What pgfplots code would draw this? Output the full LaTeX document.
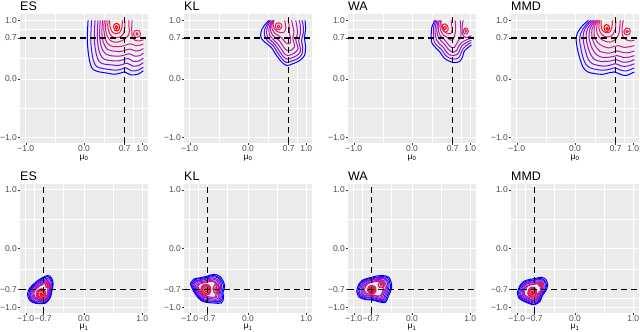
\documentclass[border=0pt]{standalone}
\usepackage{fontspec}
\setmainfont{Liberation Sans}
\usepackage{pgfplots}
\pgfplotsset{compat=1.18}
\definecolor{k0}{HTML}{0000FF}
\definecolor{k1}{HTML}{5A0CF2}
\definecolor{k2}{HTML}{7A10E0}
\definecolor{k3}{HTML}{9214CC}
\definecolor{k4}{HTML}{A418B8}
\definecolor{k5}{HTML}{B41CA4}
\definecolor{k6}{HTML}{C31E8E}
\definecolor{k7}{HTML}{D11E78}
\definecolor{k8}{HTML}{DE1C62}
\definecolor{k9}{HTML}{EC164A}
\definecolor{k10}{HTML}{FF0000}
\definecolor{bgg}{HTML}{EBEBEB}
\definecolor{tickg}{HTML}{4D4D4D}
\definecolor{tickm}{HTML}{333333}
\pgfplotsset{
  panel/.style={
    scale only axis, width=128bp, height=129bp,
    xmin=-1.1, xmax=1.1, ymin=-1.1, ymax=1.1,
    axis background/.style={fill=bgg},
    axis x line*=bottom, axis y line*=left,
    axis line style={draw=none},
    grid=both,
    major grid style={white, line width=0.9bp},
    minor grid style={white, line width=0.45bp},
    tick style={tickm, line width=0.5bp},
    major tick length=2bp, minor tick length=0pt,
    tick align=outside,
    tick label style={font=\fontsize{8.5}{9}\selectfont, text=tickg},
    xticklabel style={anchor=north, inner sep=0.3bp},
    yticklabel style={inner sep=1bp},
    title style={at={(axis description cs:0,1)}, anchor=base west, inner sep=0pt, yshift=-2.3bp, font=\fontsize{12.5}{14}\selectfont},
    xlabel style={at={(axis description cs:0.5,0)}, anchor=center, yshift=-14.5bp, font=\fontsize{8.5}{10}\selectfont, inner sep=0pt},
    every axis plot/.append style={line width=1bp, smooth, tension=0.55},
  },
  toprow/.style={panel,
    xtick={-1,0,0.7,1}, xticklabels={−1.0,0.0,0.7,1.0},
    ytick={-1,0,0.7,1}, yticklabels={−1.0,0.0,0.7,1.0},
    minor xtick={-0.5,0.35,0.85}, minor ytick={-0.5,0.35,0.85},
    xlabel={μ\textsubscript{0}}},
  botrow/.style={panel,
    xtick={-1,-0.7,0,1}, xticklabels={−1.0,−0.7,0.0,1.0},
    ytick={-1,-0.7,0,1}, yticklabels={−1.0,−0.7,0.0,1.0},
    minor xtick={-0.85,-0.35,0.5}, minor ytick={-0.85,-0.35,0.5},
    xlabel={μ\textsubscript{1}}},
  dl/.style={black, line width=1.5bp, dash pattern=on 6bp off 4bp, sharp plot},
  ic/.style={line width=1.3bp},
}
\begin{document}
\begin{tikzpicture}
\fill[white] (0,0) rectangle (640bp,332bp);
\useasboundingbox (0,0) rectangle (640bp,332bp);

% ---------------- Top row: ES ----------------
\begin{axis}[toprow, at={(20bp,188.5bp)}, anchor=south west, title={ES}]
\addplot[k0] coordinates {(0.07,1.0) (0.06,0.80) (0.06,0.60) (0.08,0.40) (0.11,0.25) (0.16,0.16) (0.27,0.12) (0.40,0.10) (0.52,0.08) (0.62,0.10) (0.70,0.12) (0.80,0.07) (0.92,0.08) (1.02,0.14)};
\addplot[k1] coordinates {(0.13,1.0) (0.12,0.80) (0.12,0.60) (0.14,0.42) (0.17,0.29) (0.22,0.21) (0.32,0.18) (0.45,0.16) (0.56,0.15) (0.65,0.17) (0.72,0.19) (0.82,0.14) (0.93,0.15) (1.02,0.20)};
\addplot[k2] coordinates {(0.19,1.0) (0.18,0.82) (0.18,0.64) (0.20,0.48) (0.23,0.36) (0.28,0.28) (0.37,0.25) (0.48,0.24) (0.58,0.23) (0.67,0.25) (0.74,0.27) (0.84,0.22) (0.94,0.23) (1.02,0.28)};
\addplot[k3] coordinates {(0.24,1.0) (0.23,0.82) (0.23,0.66) (0.25,0.52) (0.28,0.42) (0.33,0.35) (0.41,0.32) (0.51,0.31) (0.60,0.31) (0.68,0.33) (0.76,0.35) (0.85,0.30) (0.95,0.31) (1.02,0.36)};
\addplot[k4] coordinates {(0.28,1.0) (0.27,0.84) (0.27,0.70) (0.29,0.58) (0.32,0.49) (0.37,0.43) (0.45,0.40) (0.54,0.39) (0.62,0.39) (0.70,0.41) (0.78,0.43) (0.87,0.39) (0.96,0.40) (1.02,0.44)};
\addplot[k5] coordinates {(0.32,1.0) (0.31,0.86) (0.31,0.74) (0.33,0.63) (0.36,0.56) (0.41,0.50) (0.48,0.48) (0.56,0.47) (0.64,0.47) (0.71,0.49) (0.79,0.51) (0.88,0.48) (0.97,0.49) (1.02,0.52)};
\addplot[k6] coordinates {(0.35,1.0) (0.34,0.88) (0.35,0.76) (0.37,0.67) (0.40,0.61) (0.45,0.57) (0.52,0.55) (0.59,0.55) (0.66,0.56) (0.72,0.58) (0.80,0.60) (0.89,0.57) (0.98,0.58) (1.02,0.60)};
\addplot[k7] coordinates {(0.38,1.0) (0.37,0.89) (0.38,0.79) (0.41,0.71) (0.45,0.66) (0.51,0.63) (0.58,0.63) (0.65,0.65) (0.71,0.69) (0.76,0.74) (0.78,0.82) (0.77,0.92) (0.77,1.0)};
\addplot[k7] coordinates {(0.83,1.0) (0.82,0.88) (0.83,0.72) (0.88,0.66) (0.96,0.65) (1.02,0.67)};
\addplot[k8] coordinates {(0.85,0.77) (0.87,0.72) (0.91,0.71) (0.96,0.73) (0.97,0.78) (0.95,0.82) (0.91,0.83) (0.87,0.82) (0.85,0.77)};
\addplot[k9] coordinates {(0.89,0.77) (0.91,0.75) (0.93,0.77) (0.91,0.79) (0.89,0.77)};
\addplot[k8] coordinates {(0.41,1.0) (0.41,0.88) (0.44,0.78) (0.49,0.72) (0.56,0.70) (0.63,0.72) (0.68,0.78) (0.70,0.88) (0.70,1.0)};
\addplot[k9] coordinates {(0.44,1.0) (0.45,0.88) (0.49,0.80) (0.55,0.77) (0.61,0.79) (0.65,0.87) (0.66,1.0)};
\addplot[k10] coordinates {(0.51,0.89) (0.53,0.83) (0.57,0.82) (0.61,0.86) (0.60,0.93) (0.56,0.95) (0.52,0.93) (0.51,0.89)};
\addplot[k10] coordinates {(0.54,0.88) (0.56,0.85) (0.58,0.88) (0.56,0.91) (0.54,0.88)};
\addplot[dl] coordinates {(0.7,-1.1) (0.7,1.1)};
\addplot[dl] coordinates {(-1.1,0.7) (1.1,0.7)};
\end{axis}

% ---------------- Top row: KL ----------------
\begin{axis}[toprow, at={(184bp,188.5bp)}, anchor=south west, title={KL}]
\addplot[k0] coordinates {(0.36,1.0) (0.27,0.90) (0.22,0.79) (0.23,0.69) (0.31,0.61) (0.40,0.54) (0.47,0.43) (0.56,0.31) (0.66,0.23) (0.77,0.26) (0.88,0.31) (0.97,0.40) (0.99,0.55) (0.97,0.70) (0.99,0.85) (0.98,1.0)};
\addplot[k1] coordinates {(0.38,1.0) (0.31,0.90) (0.28,0.80) (0.30,0.70) (0.36,0.63) (0.44,0.56) (0.50,0.46) (0.58,0.35) (0.66,0.28) (0.76,0.31) (0.86,0.35) (0.93,0.43) (0.94,0.55) (0.92,0.66) (0.95,0.78) (0.95,0.90) (0.93,1.0)};
\addplot[k3] coordinates {(0.40,1.0) (0.34,0.90) (0.32,0.80) (0.34,0.71) (0.40,0.65) (0.47,0.58) (0.53,0.49) (0.60,0.39) (0.67,0.34) (0.75,0.36) (0.84,0.40) (0.90,0.47) (0.89,0.57) (0.87,0.66) (0.90,0.77) (0.90,0.90) (0.88,1.0)};
\addplot[k4] coordinates {(0.42,1.0) (0.37,0.90) (0.36,0.81) (0.38,0.73) (0.44,0.67) (0.50,0.61) (0.56,0.53) (0.62,0.44) (0.68,0.40) (0.75,0.42) (0.82,0.46) (0.86,0.52) (0.84,0.60) (0.82,0.68) (0.85,0.77) (0.84,0.90) (0.82,1.0)};
\addplot[k5] coordinates {(0.43,1.0) (0.39,0.91) (0.39,0.82) (0.42,0.75) (0.48,0.70) (0.54,0.65) (0.59,0.58) (0.64,0.51) (0.70,0.48) (0.76,0.50) (0.80,0.55) (0.79,0.62) (0.77,0.70) (0.79,0.79) (0.77,0.90) (0.75,1.0)};
\addplot[k6] coordinates {(0.44,1.0) (0.41,0.92) (0.42,0.84) (0.46,0.78) (0.52,0.74) (0.58,0.70) (0.63,0.64) (0.68,0.60) (0.73,0.62) (0.73,0.70) (0.71,0.78) (0.71,0.88) (0.69,1.0)};
\addplot[k7] coordinates {(0.45,1.0) (0.43,0.93) (0.45,0.86) (0.50,0.81) (0.56,0.79) (0.62,0.80) (0.65,0.87) (0.64,0.95) (0.63,1.0)};
\addplot[k8] coordinates {(0.47,0.90) (0.49,0.85) (0.54,0.84) (0.58,0.88) (0.57,0.94) (0.52,0.96) (0.48,0.94) (0.47,0.90)};
\addplot[k9] coordinates {(0.50,0.90) (0.52,0.87) (0.55,0.89) (0.53,0.92) (0.50,0.90)};
\addplot[dl] coordinates {(0.7,-1.1) (0.7,1.1)};
\addplot[dl] coordinates {(-1.1,0.7) (1.1,0.7)};
\end{axis}

% ---------------- Top row: WA ----------------
\begin{axis}[toprow, at={(348bp,188.5bp)}, anchor=south west, title={WA}]
\addplot[k0] coordinates {(0.39,1.0) (0.34,0.88) (0.33,0.74) (0.34,0.62) (0.40,0.54) (0.48,0.46) (0.55,0.36) (0.63,0.31) (0.72,0.28) (0.82,0.30) (0.87,0.38) (0.90,0.48) (0.97,0.54) (1.02,0.58)};
\addplot[k2] coordinates {(0.41,1.0) (0.37,0.88) (0.37,0.75) (0.38,0.64) (0.43,0.57) (0.51,0.50) (0.57,0.41) (0.64,0.36) (0.72,0.34) (0.80,0.36) (0.84,0.43) (0.88,0.52) (0.96,0.59) (1.02,0.62)};
\addplot[k3] coordinates {(0.43,1.0) (0.40,0.89) (0.40,0.77) (0.42,0.67) (0.47,0.60) (0.54,0.54) (0.59,0.46) (0.65,0.41) (0.72,0.40) (0.78,0.42) (0.82,0.49) (0.86,0.57) (0.95,0.63) (1.02,0.66)};
\addplot[k4] coordinates {(0.45,1.0) (0.43,0.89) (0.43,0.79) (0.46,0.70) (0.51,0.64) (0.57,0.58) (0.62,0.51) (0.67,0.47) (0.72,0.46) (0.77,0.49) (0.80,0.56) (0.85,0.62) (0.94,0.67) (1.02,0.70)};
\addplot[k5] coordinates {(0.47,1.0) (0.45,0.90) (0.46,0.80) (0.49,0.73) (0.55,0.68) (0.60,0.62) (0.65,0.56) (0.69,0.53) (0.73,0.54) (0.76,0.59) (0.80,0.66) (0.84,0.72) (0.84,0.84) (0.83,1.0)};
\addplot[k5] coordinates {(0.88,1.0) (0.86,0.88) (0.87,0.76) (0.92,0.71) (0.98,0.72) (1.02,0.74)};
\addplot[k7] coordinates {(0.88,0.82) (0.90,0.77) (0.94,0.77) (0.97,0.81) (0.95,0.86) (0.91,0.87) (0.88,0.82)};
\addplot[k8] coordinates {(0.91,0.82) (0.92,0.80) (0.94,0.82) (0.92,0.84) (0.91,0.82)};
\addplot[k6] coordinates {(0.49,1.0) (0.48,0.90) (0.50,0.81) (0.54,0.75) (0.60,0.71) (0.65,0.67) (0.69,0.66) (0.72,0.70) (0.74,0.77) (0.75,0.88) (0.74,1.0)};
\addplot[k8] coordinates {(0.50,1.0) (0.50,0.91) (0.53,0.84) (0.58,0.79) (0.63,0.77) (0.67,0.78) (0.69,0.85) (0.68,0.94) (0.67,1.0)};
\addplot[k9] coordinates {(0.52,0.88) (0.54,0.82) (0.58,0.80) (0.62,0.84) (0.61,0.91) (0.57,0.94) (0.53,0.93) (0.52,0.88)};
\addplot[k10] coordinates {(0.54,0.87) (0.56,0.84) (0.59,0.86) (0.57,0.90) (0.54,0.87)};
\addplot[dl] coordinates {(0.7,-1.1) (0.7,1.1)};
\addplot[dl] coordinates {(-1.1,0.7) (1.1,0.7)};
\end{axis}

% ---------------- Top row: MMD ----------------
\begin{axis}[toprow, at={(511bp,188.5bp)}, anchor=south west, title={MMD}]
\addplot[k0] coordinates {(0.23,1.0) (0.12,0.90) (0.04,0.78) (0.02,0.66) (0.04,0.52) (0.08,0.36) (0.14,0.20) (0.22,0.12) (0.35,0.09) (0.48,0.08) (0.60,0.11) (0.68,0.12) (0.78,0.08) (0.88,0.06) (1.02,0.12)};
\addplot[k1] coordinates {(0.27,1.0) (0.17,0.90) (0.10,0.78) (0.08,0.66) (0.10,0.53) (0.13,0.39) (0.18,0.26) (0.26,0.19) (0.38,0.16) (0.50,0.15) (0.61,0.17) (0.69,0.19) (0.79,0.15) (0.89,0.14) (1.02,0.19)};
\addplot[k2] coordinates {(0.30,1.0) (0.21,0.91) (0.15,0.80) (0.14,0.68) (0.16,0.56) (0.19,0.44) (0.23,0.33) (0.30,0.26) (0.41,0.23) (0.52,0.22) (0.62,0.24) (0.70,0.26) (0.80,0.22) (0.90,0.22) (1.02,0.26)};
\addplot[k3] coordinates {(0.33,1.0) (0.25,0.91) (0.20,0.81) (0.19,0.70) (0.21,0.59) (0.24,0.49) (0.28,0.40) (0.34,0.33) (0.44,0.30) (0.54,0.30) (0.63,0.31) (0.71,0.33) (0.81,0.29) (0.91,0.29) (1.02,0.33)};
\addplot[k4] coordinates {(0.35,1.0) (0.29,0.92) (0.25,0.83) (0.24,0.72) (0.26,0.62) (0.29,0.53) (0.33,0.46) (0.39,0.40) (0.47,0.37) (0.56,0.37) (0.64,0.38) (0.72,0.40) (0.82,0.37) (0.92,0.37) (1.02,0.40)};
\addplot[k5] coordinates {(0.37,1.0) (0.32,0.92) (0.29,0.84) (0.29,0.74) (0.31,0.65) (0.34,0.58) (0.38,0.52) (0.43,0.47) (0.50,0.45) (0.58,0.44) (0.66,0.46) (0.73,0.48) (0.83,0.45) (0.93,0.45) (1.02,0.48)};
\addplot[k6] coordinates {(0.39,1.0) (0.35,0.93) (0.33,0.85) (0.33,0.76) (0.35,0.68) (0.39,0.62) (0.44,0.58) (0.50,0.55) (0.58,0.53) (0.66,0.55) (0.74,0.57) (0.84,0.54) (0.94,0.55) (1.02,0.57)};
\addplot[k7] coordinates {(0.41,1.0) (0.38,0.93) (0.37,0.86) (0.38,0.78) (0.41,0.72) (0.46,0.67) (0.53,0.64) (0.61,0.63) (0.68,0.66) (0.73,0.72) (0.76,0.80) (0.77,0.90) (0.78,1.0)};
\addplot[k7] coordinates {(0.83,1.0) (0.81,0.88) (0.82,0.74) (0.88,0.67) (0.96,0.65) (1.02,0.66)};
\addplot[k8] coordinates {(0.84,0.81) (0.86,0.76) (0.90,0.75) (0.94,0.77) (0.95,0.82) (0.93,0.86) (0.88,0.87) (0.84,0.81)};
\addplot[k9] coordinates {(0.87,0.81) (0.89,0.79) (0.92,0.81) (0.89,0.83) (0.87,0.81)};
\addplot[k8] coordinates {(0.43,1.0) (0.41,0.92) (0.42,0.83) (0.46,0.76) (0.52,0.72) (0.59,0.72) (0.65,0.76) (0.69,0.84) (0.70,0.93) (0.70,1.0)};
\addplot[k9] coordinates {(0.45,1.0) (0.45,0.91) (0.47,0.83) (0.52,0.79) (0.58,0.79) (0.62,0.84) (0.64,0.92) (0.64,1.0)};
\addplot[k10] coordinates {(0.50,0.87) (0.52,0.82) (0.56,0.81) (0.59,0.85) (0.58,0.91) (0.54,0.93) (0.51,0.91) (0.50,0.87)};
\addplot[k10] coordinates {(0.53,0.86) (0.55,0.84) (0.57,0.86) (0.55,0.88) (0.53,0.86)};
\addplot[dl] coordinates {(0.7,-1.1) (0.7,1.1)};
\addplot[dl] coordinates {(-1.1,0.7) (1.1,0.7)};
\end{axis}

% ---------------- Bottom row: ES ----------------
\begin{axis}[botrow, at={(20bp,19bp)}, anchor=south west, title={ES}]
\addplot[k0] coordinates {(-0.97,-0.78) (-0.95,-0.70) (-0.88,-0.62) (-0.80,-0.55) (-0.72,-0.50) (-0.62,-0.46) (-0.56,-0.50) (-0.53,-0.60) (-0.55,-0.72) (-0.58,-0.84) (-0.66,-0.93) (-0.78,-0.94) (-0.88,-0.92) (-0.95,-0.86) (-0.97,-0.78)};
\addplot[k0] coordinates {(-0.95,-0.78) (-0.93,-0.70) (-0.87,-0.63) (-0.79,-0.57) (-0.72,-0.52) (-0.63,-0.48) (-0.57,-0.52) (-0.54,-0.61) (-0.56,-0.72) (-0.59,-0.83) (-0.66,-0.92) (-0.78,-0.93) (-0.87,-0.91) (-0.93,-0.85) (-0.95,-0.78)};
\addplot[k1] coordinates {(-0.93,-0.78) (-0.92,-0.71) (-0.86,-0.64) (-0.79,-0.58) (-0.72,-0.54) (-0.64,-0.51) (-0.58,-0.54) (-0.56,-0.62) (-0.58,-0.73) (-0.60,-0.83) (-0.67,-0.91) (-0.77,-0.91) (-0.86,-0.90) (-0.92,-0.85) (-0.93,-0.78)};
\addplot[k2] coordinates {(-0.92,-0.78) (-0.90,-0.71) (-0.85,-0.65) (-0.78,-0.60) (-0.72,-0.56) (-0.64,-0.53) (-0.60,-0.56) (-0.57,-0.64) (-0.59,-0.73) (-0.61,-0.82) (-0.67,-0.89) (-0.77,-0.90) (-0.85,-0.89) (-0.90,-0.84) (-0.92,-0.78)};
\addplot[k3] coordinates {(-0.90,-0.77) (-0.88,-0.72) (-0.83,-0.66) (-0.78,-0.61) (-0.72,-0.58) (-0.65,-0.55) (-0.61,-0.58) (-0.59,-0.65) (-0.60,-0.73) (-0.62,-0.82) (-0.68,-0.88) (-0.76,-0.89) (-0.83,-0.87) (-0.88,-0.83) (-0.90,-0.77)};
\addplot[k4] coordinates {(-0.88,-0.77) (-0.86,-0.72) (-0.82,-0.67) (-0.77,-0.63) (-0.72,-0.60) (-0.66,-0.57) (-0.62,-0.60) (-0.60,-0.66) (-0.61,-0.74) (-0.63,-0.81) (-0.68,-0.87) (-0.76,-0.87) (-0.82,-0.86) (-0.86,-0.82) (-0.88,-0.77)};
\addplot[k5] coordinates {(-0.86,-0.77) (-0.85,-0.73) (-0.81,-0.68) (-0.76,-0.64) (-0.72,-0.62) (-0.67,-0.60) (-0.63,-0.62) (-0.62,-0.67) (-0.63,-0.74) (-0.64,-0.80) (-0.69,-0.85) (-0.75,-0.86) (-0.81,-0.85) (-0.85,-0.82) (-0.86,-0.77)};
\addplot[k7,ic] coordinates {(-0.82,-0.78) (-0.80,-0.72) (-0.74,-0.69) (-0.68,-0.71) (-0.66,-0.78) (-0.68,-0.84) (-0.74,-0.86) (-0.80,-0.84) (-0.82,-0.78)};
\addplot[k7,ic] coordinates {(-0.66,-0.62) (-0.62,-0.58) (-0.59,-0.61) (-0.61,-0.66) (-0.65,-0.66) (-0.66,-0.62)};
\addplot[k8,ic] coordinates {(-0.80,-0.78) (-0.78,-0.72) (-0.73,-0.70) (-0.69,-0.73) (-0.68,-0.79) (-0.71,-0.84) (-0.76,-0.85) (-0.80,-0.82) (-0.80,-0.78)};
\addplot[k9,ic] coordinates {(-0.79,-0.78) (-0.77,-0.73) (-0.73,-0.72) (-0.70,-0.75) (-0.70,-0.80) (-0.74,-0.83) (-0.78,-0.82) (-0.79,-0.78)};
\addplot[k9,ic] coordinates {(-0.64,-0.62) (-0.62,-0.60) (-0.60,-0.62) (-0.62,-0.64) (-0.64,-0.62)};
\addplot[k10,ic] coordinates {(-0.76,-0.78) (-0.74,-0.76) (-0.72,-0.78) (-0.74,-0.80) (-0.76,-0.78)};
\addplot[dl] coordinates {(-0.7,-1.1) (-0.7,1.1)};
\addplot[dl] coordinates {(-1.1,-0.7) (1.1,-0.7)};
\end{axis}

% ---------------- Bottom row: KL ----------------
\begin{axis}[botrow, at={(184bp,19bp)}, anchor=south west, title={KL}]
\addplot[k0] coordinates {(-0.99,-0.60) (-0.93,-0.52) (-0.82,-0.50) (-0.70,-0.47) (-0.59,-0.44) (-0.49,-0.47) (-0.43,-0.55) (-0.40,-0.65) (-0.43,-0.75) (-0.42,-0.85) (-0.46,-0.93) (-0.58,-0.93) (-0.70,-0.92) (-0.80,-0.89) (-0.89,-0.80) (-0.96,-0.68) (-0.99,-0.60)};
\addplot[k0] coordinates {(-0.97,-0.61) (-0.91,-0.53) (-0.81,-0.51) (-0.70,-0.49) (-0.60,-0.46) (-0.51,-0.49) (-0.45,-0.56) (-0.42,-0.65) (-0.45,-0.75) (-0.44,-0.84) (-0.48,-0.91) (-0.59,-0.91) (-0.70,-0.91) (-0.79,-0.88) (-0.88,-0.79) (-0.94,-0.68) (-0.97,-0.61)};
\addplot[k1] coordinates {(-0.95,-0.62) (-0.90,-0.55) (-0.80,-0.53) (-0.70,-0.50) (-0.61,-0.48) (-0.52,-0.50) (-0.47,-0.57) (-0.45,-0.66) (-0.47,-0.74) (-0.46,-0.83) (-0.50,-0.90) (-0.60,-0.90) (-0.70,-0.89) (-0.79,-0.86) (-0.86,-0.79) (-0.92,-0.68) (-0.95,-0.62)};
\addplot[k2] coordinates {(-0.93,-0.62) (-0.88,-0.56) (-0.79,-0.54) (-0.70,-0.52) (-0.61,-0.50) (-0.54,-0.52) (-0.49,-0.58) (-0.47,-0.66) (-0.49,-0.74) (-0.48,-0.82) (-0.51,-0.88) (-0.61,-0.88) (-0.70,-0.87) (-0.78,-0.85) (-0.85,-0.78) (-0.90,-0.68) (-0.93,-0.62)};
\addplot[k3] coordinates {(-0.90,-0.63) (-0.86,-0.57) (-0.78,-0.56) (-0.70,-0.54) (-0.62,-0.52) (-0.55,-0.54) (-0.51,-0.60) (-0.49,-0.67) (-0.51,-0.74) (-0.50,-0.81) (-0.53,-0.86) (-0.62,-0.86) (-0.70,-0.85) (-0.77,-0.83) (-0.83,-0.77) (-0.88,-0.69) (-0.90,-0.63)};
\addplot[k4] coordinates {(-0.88,-0.64) (-0.84,-0.59) (-0.77,-0.58) (-0.70,-0.56) (-0.63,-0.54) (-0.57,-0.56) (-0.53,-0.61) (-0.51,-0.67) (-0.53,-0.73) (-0.53,-0.79) (-0.55,-0.84) (-0.63,-0.84) (-0.70,-0.84) (-0.76,-0.82) (-0.82,-0.76) (-0.86,-0.69) (-0.88,-0.64)};
\addplot[k5] coordinates {(-0.86,-0.65) (-0.83,-0.60) (-0.77,-0.59) (-0.70,-0.57) (-0.64,-0.56) (-0.58,-0.57) (-0.55,-0.62) (-0.54,-0.67) (-0.55,-0.73) (-0.55,-0.78) (-0.57,-0.83) (-0.63,-0.83) (-0.70,-0.82) (-0.76,-0.80) (-0.80,-0.76) (-0.84,-0.69) (-0.86,-0.65)};
\addplot[k7,ic] coordinates {(-0.81,-0.70) (-0.78,-0.63) (-0.72,-0.61) (-0.66,-0.64) (-0.64,-0.71) (-0.67,-0.78) (-0.73,-0.80) (-0.79,-0.77) (-0.81,-0.70)};
\addplot[k7,ic] coordinates {(-0.60,-0.68) (-0.57,-0.62) (-0.52,-0.63) (-0.50,-0.70) (-0.53,-0.76) (-0.58,-0.75) (-0.60,-0.68)};
\addplot[k8,ic] coordinates {(-0.80,-0.70) (-0.77,-0.645) (-0.715,-0.63) (-0.665,-0.66) (-0.655,-0.72) (-0.69,-0.78) (-0.74,-0.785) (-0.78,-0.76) (-0.80,-0.70)};
\addplot[k9,ic] coordinates {(-0.78,-0.71) (-0.75,-0.66) (-0.71,-0.65) (-0.67,-0.68) (-0.67,-0.74) (-0.72,-0.77) (-0.76,-0.75) (-0.78,-0.71)};
\addplot[k9,ic] coordinates {(-0.57,-0.69) (-0.55,-0.66) (-0.53,-0.69) (-0.55,-0.72) (-0.57,-0.69)};
\addplot[k10,ic] coordinates {(-0.75,-0.71) (-0.72,-0.68) (-0.69,-0.70) (-0.71,-0.74) (-0.75,-0.71)};
\addplot[dl] coordinates {(-0.7,-1.1) (-0.7,1.1)};
\addplot[dl] coordinates {(-1.1,-0.7) (1.1,-0.7)};
\end{axis}

% ---------------- Bottom row: WA ----------------
\begin{axis}[botrow, at={(348bp,19bp)}, anchor=south west, title={WA}]
\addplot[k0] coordinates {(-0.95,-0.73) (-0.92,-0.62) (-0.85,-0.54) (-0.73,-0.50) (-0.61,-0.47) (-0.50,-0.46) (-0.40,-0.49) (-0.36,-0.57) (-0.35,-0.68) (-0.40,-0.80) (-0.46,-0.92) (-0.56,-0.91) (-0.68,-0.88) (-0.80,-0.87) (-0.91,-0.83) (-0.95,-0.73)};
\addplot[k0] coordinates {(-0.93,-0.73) (-0.90,-0.62) (-0.84,-0.55) (-0.72,-0.51) (-0.61,-0.49) (-0.51,-0.48) (-0.42,-0.50) (-0.38,-0.58) (-0.37,-0.68) (-0.42,-0.79) (-0.47,-0.90) (-0.57,-0.89) (-0.68,-0.87) (-0.79,-0.86) (-0.89,-0.82) (-0.93,-0.73)};
\addplot[k1] coordinates {(-0.91,-0.72) (-0.88,-0.63) (-0.82,-0.56) (-0.72,-0.53) (-0.62,-0.50) (-0.52,-0.49) (-0.44,-0.52) (-0.40,-0.59) (-0.40,-0.68) (-0.44,-0.78) (-0.49,-0.88) (-0.57,-0.88) (-0.68,-0.85) (-0.78,-0.84) (-0.87,-0.81) (-0.91,-0.72)};
\addplot[k2] coordinates {(-0.88,-0.72) (-0.86,-0.63) (-0.81,-0.57) (-0.71,-0.54) (-0.62,-0.52) (-0.53,-0.51) (-0.46,-0.53) (-0.42,-0.59) (-0.42,-0.68) (-0.46,-0.77) (-0.50,-0.87) (-0.58,-0.86) (-0.67,-0.84) (-0.77,-0.83) (-0.85,-0.80) (-0.88,-0.72)};
\addplot[k3] coordinates {(-0.86,-0.72) (-0.84,-0.64) (-0.79,-0.58) (-0.71,-0.55) (-0.62,-0.53) (-0.55,-0.53) (-0.48,-0.55) (-0.45,-0.60) (-0.44,-0.68) (-0.48,-0.76) (-0.52,-0.85) (-0.59,-0.84) (-0.67,-0.82) (-0.76,-0.81) (-0.83,-0.79) (-0.86,-0.72)};
\addplot[k4] coordinates {(-0.84,-0.71) (-0.82,-0.64) (-0.77,-0.59) (-0.70,-0.57) (-0.63,-0.55) (-0.56,-0.54) (-0.50,-0.56) (-0.47,-0.61) (-0.46,-0.68) (-0.50,-0.75) (-0.53,-0.83) (-0.59,-0.82) (-0.67,-0.80) (-0.74,-0.80) (-0.81,-0.77) (-0.84,-0.71)};
\addplot[k5] coordinates {(-0.82,-0.71) (-0.80,-0.65) (-0.76,-0.60) (-0.69,-0.58) (-0.63,-0.56) (-0.57,-0.56) (-0.51,-0.58) (-0.49,-0.62) (-0.49,-0.68) (-0.51,-0.75) (-0.55,-0.81) (-0.60,-0.81) (-0.67,-0.79) (-0.73,-0.78) (-0.79,-0.76) (-0.82,-0.71)};
\addplot[k7,ic] coordinates {(-0.77,-0.71) (-0.74,-0.65) (-0.68,-0.63) (-0.63,-0.66) (-0.62,-0.72) (-0.66,-0.77) (-0.72,-0.77) (-0.77,-0.71)};
\addplot[k7,ic] coordinates {(-0.58,-0.61) (-0.55,-0.57) (-0.50,-0.57) (-0.48,-0.62) (-0.51,-0.66) (-0.56,-0.66) (-0.58,-0.61)};
\addplot[k8,ic] coordinates {(-0.76,-0.71) (-0.725,-0.66) (-0.675,-0.65) (-0.64,-0.685) (-0.635,-0.73) (-0.67,-0.76) (-0.72,-0.755) (-0.76,-0.71)};
\addplot[k9,ic] coordinates {(-0.74,-0.71) (-0.71,-0.67) (-0.67,-0.67) (-0.65,-0.71) (-0.68,-0.75) (-0.72,-0.74) (-0.74,-0.71)};
\addplot[k9,ic] coordinates {(-0.55,-0.61) (-0.53,-0.59) (-0.51,-0.61) (-0.53,-0.63) (-0.55,-0.61)};
\addplot[k10,ic] coordinates {(-0.71,-0.71) (-0.69,-0.69) (-0.67,-0.71) (-0.69,-0.73) (-0.71,-0.71)};
\addplot[dl] coordinates {(-0.7,-1.1) (-0.7,1.1)};
\addplot[dl] coordinates {(-1.1,-0.7) (1.1,-0.7)};
\end{axis}

% ---------------- Bottom row: MMD ----------------
\begin{axis}[botrow, at={(511bp,19bp)}, anchor=south west, title={MMD}]
\addplot[k0] coordinates {(-0.99,-0.75) (-0.95,-0.64) (-0.88,-0.56) (-0.79,-0.53) (-0.68,-0.51) (-0.58,-0.49) (-0.50,-0.53) (-0.47,-0.62) (-0.50,-0.72) (-0.56,-0.80) (-0.60,-0.90) (-0.70,-0.96) (-0.81,-0.93) (-0.90,-0.89) (-0.97,-0.84) (-0.99,-0.75)};
\addplot[k0] coordinates {(-0.97,-0.75) (-0.94,-0.65) (-0.87,-0.57) (-0.79,-0.55) (-0.68,-0.53) (-0.59,-0.51) (-0.52,-0.55) (-0.49,-0.63) (-0.52,-0.72) (-0.57,-0.80) (-0.61,-0.89) (-0.70,-0.95) (-0.80,-0.92) (-0.89,-0.88) (-0.95,-0.83) (-0.97,-0.75)};
\addplot[k1] coordinates {(-0.95,-0.75) (-0.92,-0.66) (-0.86,-0.59) (-0.78,-0.56) (-0.69,-0.54) (-0.60,-0.53) (-0.53,-0.56) (-0.51,-0.64) (-0.53,-0.72) (-0.59,-0.79) (-0.62,-0.88) (-0.70,-0.93) (-0.80,-0.90) (-0.87,-0.87) (-0.93,-0.83) (-0.95,-0.75)};
\addplot[k2] coordinates {(-0.93,-0.75) (-0.90,-0.66) (-0.85,-0.60) (-0.78,-0.58) (-0.69,-0.56) (-0.61,-0.55) (-0.55,-0.58) (-0.53,-0.65) (-0.55,-0.72) (-0.60,-0.79) (-0.63,-0.87) (-0.71,-0.91) (-0.79,-0.89) (-0.86,-0.86) (-0.92,-0.82) (-0.93,-0.75)};
\addplot[k3] coordinates {(-0.91,-0.75) (-0.88,-0.67) (-0.84,-0.61) (-0.77,-0.59) (-0.70,-0.58) (-0.63,-0.57) (-0.57,-0.59) (-0.55,-0.66) (-0.57,-0.73) (-0.61,-0.78) (-0.64,-0.85) (-0.71,-0.89) (-0.79,-0.87) (-0.85,-0.85) (-0.90,-0.81) (-0.91,-0.75)};
\addplot[k4] coordinates {(-0.89,-0.75) (-0.87,-0.68) (-0.82,-0.63) (-0.77,-0.61) (-0.70,-0.60) (-0.64,-0.59) (-0.59,-0.61) (-0.57,-0.67) (-0.59,-0.73) (-0.63,-0.78) (-0.65,-0.84) (-0.71,-0.88) (-0.78,-0.86) (-0.84,-0.83) (-0.88,-0.80) (-0.89,-0.75)};
\addplot[k5] coordinates {(-0.87,-0.75) (-0.85,-0.69) (-0.81,-0.64) (-0.76,-0.62) (-0.70,-0.61) (-0.65,-0.60) (-0.60,-0.62) (-0.59,-0.67) (-0.60,-0.73) (-0.64,-0.77) (-0.66,-0.83) (-0.71,-0.86) (-0.77,-0.84) (-0.82,-0.82) (-0.86,-0.80) (-0.87,-0.75)};
\addplot[k7,ic] coordinates {(-0.81,-0.75) (-0.78,-0.68) (-0.72,-0.66) (-0.67,-0.70) (-0.66,-0.77) (-0.69,-0.82) (-0.75,-0.83) (-0.80,-0.80) (-0.81,-0.75)};
\addplot[k7,ic] coordinates {(-0.64,-0.61) (-0.61,-0.57) (-0.56,-0.58) (-0.55,-0.63) (-0.58,-0.66) (-0.64,-0.61)};
\addplot[k8,ic] coordinates {(-0.80,-0.75) (-0.765,-0.69) (-0.715,-0.68) (-0.68,-0.72) (-0.675,-0.78) (-0.705,-0.81) (-0.755,-0.81) (-0.79,-0.79) (-0.80,-0.75)};
\addplot[k9,ic] coordinates {(-0.78,-0.75) (-0.75,-0.70) (-0.71,-0.70) (-0.69,-0.75) (-0.72,-0.79) (-0.76,-0.79) (-0.78,-0.75)};
\addplot[k9,ic] coordinates {(-0.61,-0.61) (-0.59,-0.59) (-0.57,-0.61) (-0.59,-0.63) (-0.61,-0.61)};
\addplot[k10,ic] coordinates {(-0.75,-0.75) (-0.73,-0.73) (-0.71,-0.75) (-0.73,-0.77) (-0.75,-0.75)};
\addplot[dl] coordinates {(-0.7,-1.1) (-0.7,1.1)};
\addplot[dl] coordinates {(-1.1,-0.7) (1.1,-0.7)};
\end{axis}
\end{tikzpicture}
\end{document}
